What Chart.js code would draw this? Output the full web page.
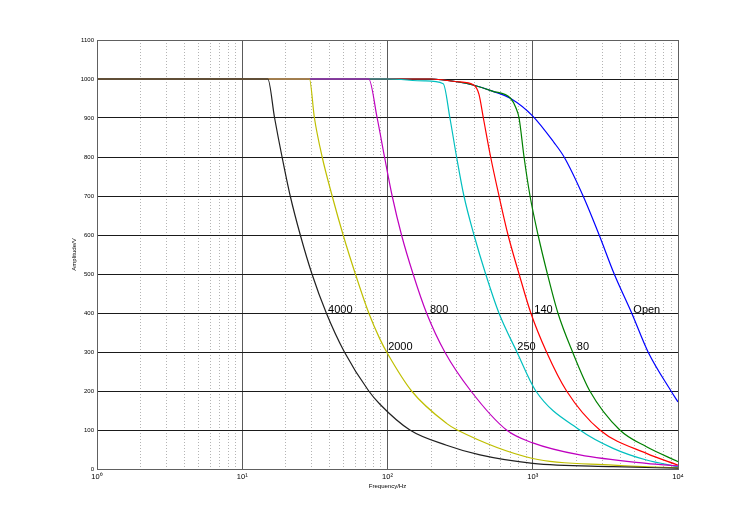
<!DOCTYPE html>
<html>
<head>
<meta charset="utf-8">
<script src="https://cdn.jsdelivr.net/npm/chart.js"></script>
<style>body{margin:0;background:#fff}</style>
</head>
<body>
<canvas id="chart" width="750" height="528"></canvas>
<script>
// values (frequency in Hz, amplitude in V)
const f4000 = [1, 15, 16.7, 18.8, 21.4, 25.1, 30.2, 37.9, 50.5, 74.3, 88.7, 142.6, 255, 433, 1000, 3573, 10000];
const a4000 = [1000, 1000, 900, 800, 700, 600, 500, 400, 300, 200, 166, 100, 61, 36, 14.5, 6, 2];
const f2000 = [1, 29, 31.4, 35.5, 41.6, 49.5, 60.1, 74.3, 88.7, 100, 146.5, 255, 302, 1000, 3573, 10000];
const a2000 = [1000, 1000, 900, 800, 700, 600, 500, 400, 333, 296, 200, 117, 100, 27, 10, 3];
const f800 = [1, 74.3, 84.9, 95.4, 107.7, 124.9, 150, 185.7, 248, 375, 660, 1000, 2110, 6067, 10000];
const a800 = [1000, 1000, 900, 800, 700, 600, 500, 400, 300, 200, 100, 67, 36, 14.5, 8];
const f250 = [1, 100, 180, 242, 269, 299, 336, 394, 474, 585, 778, 1050, 2110, 3573, 6067, 10000];
const a250 = [1000, 1000, 995, 988, 900, 800, 700, 600, 500, 400, 300, 200, 100, 53, 23, 6];
const f140 = [1, 200, 300, 394, 426, 457, 513, 586, 676, 805, 970, 1244, 1710, 2897, 6067, 10000];
const a140 = [1000, 1000, 993, 984, 961, 900, 800, 700, 600, 500, 400, 300, 200, 100, 40, 10];
const f80 = [1, 200, 300, 394, 527, 705, 764, 805, 871, 958, 1088, 1262, 1490, 1880, 2472, 3975, 6067, 10000];
const a80 = [1000, 1000, 993, 984, 969, 950, 927, 900, 800, 700, 600, 500, 400, 300, 200, 100, 57, 19];
const fOpen = [1, 200, 300, 394, 527, 705, 1000, 1402, 1644, 2222, 2866, 3638, 4797, 6224, 8950, 10000];
const aOpen = [1000, 1000, 993, 984, 969, 950, 905, 837, 800, 700, 600, 500, 400, 300, 200, 172];

const curveNames = ["4000", "2000", "800", "250", "140", "80", "Open"];
const curveColors = ["#202020", "#bfbf00", "#bf00bf", "#00bfbf", "#ff0000", "#008000", "#0000ff"];
const labelF = [39, 101, 196, 783, 1025, 2010, 4925];
const labelA = [407, 312, 407, 312, 407, 312, 407];

const xTicks = [1,2,3,4,5,6,7,8,9,10,20,30,40,50,60,70,80,90,100,200,300,400,500,600,700,800,900,1000,2000,3000,4000,5000,6000,7000,8000,9000,10000];
const decadeLabels = {1: "10\u2070", 10: "10\u00b9", 100: "10\u00b2", 1000: "10\u00b3", 10000: "10\u2074"};
const yTicks = [0,100,200,300,400,500,600,700,800,900,1000,1100];

const pts = (f, a) => f.map((v, i) => ({x: v, y: a[i]}));
const series = [[f4000,a4000],[f2000,a2000],[f800,a800],[f250,a250],[f140,a140],[f80,a80],[fOpen,aOpen]];

const isMajor = ctx => ctx.tick && decadeLabels[ctx.tick.value] !== undefined;

const extras = {
  id: "extras",
  afterDatasetsDraw(chart) {
    const c = chart.ctx, x = chart.scales.x, y = chart.scales.y;
    c.save();
    c.fillStyle = "#000";
    c.font = "11px 'Liberation Sans', Arial, sans-serif";
    c.textAlign = "left";
    c.textBaseline = "middle";
    curveNames.forEach((t, i) => {
      c.fillText(t, x.getPixelForValue(labelF[i]), y.getPixelForValue(labelA[i]));
    });
    const a = chart.chartArea;
    c.strokeStyle = "#606060";
    c.lineWidth = 1;
    c.strokeRect(Math.round(a.left) + 0.5, Math.round(a.top) + 0.5, Math.round(a.right - a.left), Math.round(a.bottom - a.top));
    c.restore();
  }
};

new Chart("chart", {
  type: "line",
  data: {
    datasets: series.map((s, i) => ({
      label: curveNames[i],
      data: pts(s[0], s[1]),
      borderColor: curveColors[i],
      borderWidth: 1.2,
      pointRadius: 0,
      fill: false,
      cubicInterpolationMode: "monotone"
    }))
  },
  options: {
    responsive: false,
    animation: false,
    devicePixelRatio: 1,
    layout: {padding: {left: 60, right: 72, top: 40, bottom: 35}},
    plugins: {legend: {display: false}, tooltip: {enabled: false}},
    scales: {
      x: {
        type: "logarithmic",
        min: 1, max: 10000,
        afterBuildTicks: s => { s.ticks = xTicks.map(v => ({value: v})); },
        afterFit: s => { s.height = 24; },
        ticks: {
          autoSkip: false, maxRotation: 0, padding: 3,
          color: "#000",
          font: {size: 7.5, family: "'Liberation Sans', Arial, sans-serif"},
          callback: v => decadeLabels[v] || ""
        },
        grid: {
          drawTicks: false,
          color: ctx => isMajor(ctx) ? "#5a5a5a" : "#b4b4b4",
          lineWidth: 1
        },
        border: {display: false, dash: ctx => isMajor(ctx) ? [] : [1, 2]},
        title: {
          display: true, text: "Frequency/Hz", color: "#000",
          padding: 3,
          font: {size: 6, family: "'Liberation Sans', Arial, sans-serif"}
        }
      },
      y: {
        min: 0, max: 1100,
        afterBuildTicks: s => { s.ticks = yTicks.map(v => ({value: v})); },
        afterFit: s => { s.width = 37; },
        ticks: {
          padding: 3, color: "#000",
          font: {size: 6, family: "'Liberation Sans', Arial, sans-serif"},
          callback: v => String(v)
        },
        grid: {drawTicks: false, color: "#1a1a1a", lineWidth: 1},
        border: {display: false},
        title: {
          display: true, text: "Amplitude/V", color: "#000",
          padding: 11,
          font: {size: 6, family: "'Liberation Sans', Arial, sans-serif"}
        }
      }
    }
  },
  plugins: [extras]
});
</script>
</body>
</html>
